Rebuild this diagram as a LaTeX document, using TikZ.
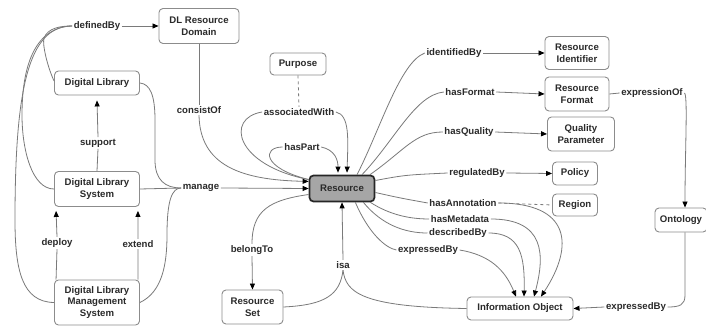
\documentclass[tikz,border=0pt]{standalone}
\usepackage{fontspec}
\setmainfont{Liberation Sans}
\usetikzlibrary{arrows.meta}
\definecolor{boxgray}{HTML}{8C8C8C}
\definecolor{linegray}{HTML}{7A7A7A}
\definecolor{txt}{HTML}{2A2A2A}
\definecolor{resgray}{HTML}{A6A6A6}
\begin{document}
\begin{tikzpicture}[x=1pt,y=-1pt,
  box/.style={draw=boxgray, rounded corners=4pt, line width=0.9pt, align=center,
    font=\bfseries\fontsize{9.6}{11.5}\selectfont, text=txt, inner sep=2pt},
  lbl/.style={font=\bfseries\fontsize{9.6}{11.5}\selectfont, text=txt, inner sep=1.5pt},
  con/.style={draw=linegray, line width=0.8pt},
  arr/.style={con, -{Triangle[length=6pt,width=5pt,color=black]}},
  dsh/.style={con, dashed}
]
\fill[white] (0,0) rectangle (706,328);
\useasboundingbox (0,0) rectangle (706,328);

% concept boxes
\node[box, minimum width=80pt, minimum height=35pt] (dlrd) at (199,26) {DL Resource\\Domain};
\node[box, minimum width=85pt, minimum height=24pt] (dl) at (97,83) {Digital Library};
\node[box, minimum width=85pt, minimum height=35pt] (dls) at (97,189) {Digital Library\\System};
\node[box, minimum width=85pt, minimum height=45pt] (dlms) at (97,302.5) {Digital Library\\Management\\System};
\node[box, minimum width=56pt, minimum height=22pt] (purpose) at (298,64) {Purpose};
\node[box, draw=black!85, fill=resgray, line width=1.7pt, minimum width=65pt, minimum height=26pt] (res) at (342,188.5) {Resource};
\node[box, minimum width=64pt, minimum height=33pt] (rid) at (577,53) {Resource\\Identifier};
\node[box, minimum width=64pt, minimum height=34pt] (rf) at (577,94) {Resource\\Format};
\node[box, minimum width=67pt, minimum height=34pt] (qp) at (581,134) {Quality\\Parameter};
\node[box, minimum width=45pt, minimum height=23pt] (policy) at (575,173.5) {Policy};
\node[box, minimum width=45pt, minimum height=22pt] (region) at (575,205) {Region};
\node[box, minimum width=52pt, minimum height=24pt] (onto) at (681,220) {Ontology};
\node[box, minimum width=61pt, minimum height=34pt] (rset) at (252.5,307) {Resource\\Set};
\node[box, minimum width=106pt, minimum height=23pt] (io) at (520,308.5) {Information Object};

% link labels
\node[lbl] (lDefined) at (97,26) {definedBy};
\node[lbl] (lConsist) at (199,110) {consistOf};
\node[lbl] (lSupport) at (98,143) {support};
\node[lbl] (lManage) at (201,188) {manage};
\node[lbl] (lDeploy) at (57,243) {deploy};
\node[lbl] (lExtend) at (138,244) {extend};
\node[lbl] (lAssoc) at (299,112) {associatedWith};
\node[lbl] (lPart) at (302,147) {hasPart};
\node[lbl] (lIdent) at (454,53) {identifiedBy};
\node[lbl] (lFormat) at (470,92) {hasFormat};
\node[lbl] (lQuality) at (469,132) {hasQuality};
\node[lbl] (lReg) at (477,173) {regulatedBy};
\node[lbl] (lAnno) at (463,203) {hasAnnotation};
\node[lbl] (lMeta) at (460,219) {hasMetadata};
\node[lbl] (lDesc) at (458,233) {describedBy};
\node[lbl] (lExprA) at (428,250) {expressedBy};
\node[lbl] (lExprOf) at (652,93) {expressionOf};
\node[lbl] (lBelong) at (252,250) {belongTo};
\node[lbl] (lIsa) at (343,265) {isa};
\node[lbl] (lExprB) at (636,307) {expressedBy};

% definedBy
\draw[con] (dlms.west) .. controls (22,302) and (15,270) .. (15,220)
  .. controls (15,90) and (28,26) .. (lDefined.west);
\draw[con] (dls.west) .. controls (32,189) and (22,150) .. (22,115)
  .. controls (22,60) and (38,27) .. (lDefined.west);
\draw[con] ([yshift=2pt]dl.west) .. controls (48,68) and (42,45) .. (44,38)
  .. controls (48,28) and (60,26) .. (lDefined.west);
\draw[arr] (lDefined.east) -- (dlrd.west);

% consistOf
\draw[con] (dlrd.south) -- (lConsist.north);
\draw[arr] (lConsist.south) .. controls (200,165) and (240,180) .. (res.168);

% support / deploy / extend
\draw[con] (dls.north) -- (lSupport.south);
\draw[arr] (lSupport.north) -- ([yshift=-5pt]dl.south);
\draw[con] ([xshift=2pt]dlms.north west) -- (lDeploy.south);
\draw[arr] (lDeploy.north) -- ([xshift=2pt,yshift=-4pt]dls.south west);
\draw[con] ([xshift=-2pt]dlms.north east) -- (lExtend.south);
\draw[arr] (lExtend.north) -- ([xshift=-2pt,yshift=-4pt]dls.south east);

% manage
\draw[con] (dls.east) -- (lManage.west);
\draw[con] (dl.east) .. controls (150,84) and (155,95) .. (155,120)
  -- (155,160) .. controls (155,180) and (165,188) .. (lManage.west);
\draw[con] (dlms.east) .. controls (162,292) and (167,265) .. (167,235)
  .. controls (167,200) and (172,188) .. (lManage.west);
\draw[arr] (lManage.east) -- (res.west);

% associatedWith
\draw[dsh] (purpose.south) -- (lAssoc.north);
\draw[con] (lAssoc.west) .. controls (225,118) and (235,165) .. (res.165);
\draw[arr] (lAssoc.east) .. controls (350,115) and (348,140) .. ([xshift=5pt,yshift=2pt]res.north);
% hasPart
\draw[con] (lPart.west) .. controls (262,147) and (262,168) .. (res.165);
\draw[arr] (lPart.east) .. controls (335,150) and (338,160) .. ([xshift=-4pt,yshift=2pt]res.north);

% right side links
\draw[con] ([xshift=15pt]res.north) .. controls (380,130) and (400,62) .. (lIdent.west);
\draw[arr] (lIdent.east) -- (rid.west);
\draw[con] ([xshift=20pt]res.north) .. controls (395,140) and (415,95) .. (lFormat.west);
\draw[arr] (lFormat.east) -- (rf.west);
\draw[con] ([xshift=28pt]res.north) .. controls (405,150) and (415,132) .. (lQuality.west);
\draw[arr] (lQuality.east) -- (qp.west);
\draw[con] ([yshift=8pt]res.east) .. controls (405,175) .. (lReg.west);
\draw[arr] (lReg.east) -- (policy.west);

\draw[con] (rf.east) -- (lExprOf.west);
\draw[arr] (lExprOf.east) .. controls (688,94) and (685,150) .. ([xshift=4pt]onto.north);

\draw[con] ([yshift=-4pt]res.east) .. controls (400,198) .. (lAnno.west);
\draw[dsh] (lAnno.east) -- (region.west);
\draw[arr] (lAnno.east) .. controls (570,203) and (575,245) .. ([xshift=21pt]io.north);
\draw[con] ([xshift=-5pt]res.south east) .. controls (390,215) and (410,219) .. (lMeta.west);
\draw[arr] (lMeta.east) .. controls (545,219) and (545,255) .. ([xshift=14pt]io.north);
\draw[con] ([xshift=-12pt]res.south east) .. controls (382,225) and (405,233) .. (lDesc.west);
\draw[arr] (lDesc.east) .. controls (520,233) and (525,255) .. ([xshift=4pt]io.north);
\draw[con] ([xshift=-20pt]res.south east) .. controls (368,232) and (385,248) .. (lExprA.west);
\draw[arr] (lExprA.east) .. controls (490,255) and (505,270) .. ([xshift=-4pt]io.north);

% belongTo
\draw[con] ([yshift=-6pt]res.west) .. controls (270,200) and (252,210) .. (lBelong.north);
\draw[arr] (lBelong.south) -- (rset.north);

% isa
\draw[arr] (lIsa.north) -- (res.south);
\draw[con] (rset.east) .. controls (325,305) and (340,295) .. (lIsa.south);
\draw[con] (io.west) .. controls (360,307) and (346,292) .. (lIsa.south);

% expressedBy (ontology)
\draw[con] ([xshift=4pt]onto.south) -- (685,295) .. controls (685,305) and (680,307) .. (lExprB.east);
\draw[arr] (lExprB.west) -- (io.east);
\end{tikzpicture}
\end{document}
